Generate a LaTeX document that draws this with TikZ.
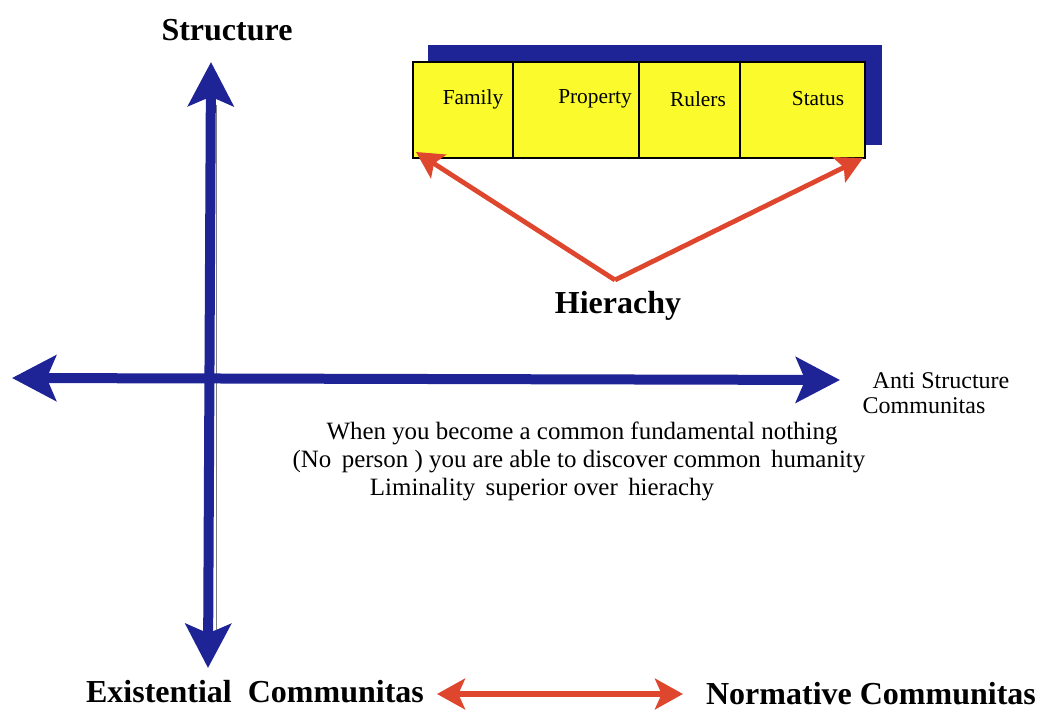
\documentclass[tikz,border=0pt]{standalone}
\usepackage{fontspec}
\setmainfont{Liberation Serif}
\usetikzlibrary{arrows.meta}
\definecolor{axisblue}{RGB}{30,36,150}
\definecolor{hred}{RGB}{222,70,45}
\definecolor{cellyellow}{RGB}{250,250,45}
\tikzset{
  blueaxis/.style={draw=axisblue, line width=7.5pt,
    {Stealth[length=33pt,width=34pt,inset=7pt]}-{Stealth[length=33pt,width=34pt,inset=7pt]}},
  redarrow/.style={draw=hred, line width=3.6pt, -{Stealth[length=20pt,width=21pt,inset=4pt]}},
  reddouble/.style={draw=hred, line width=4.5pt,
    {Stealth[length=21pt,width=23pt,inset=5pt]}-{Stealth[length=21pt,width=23pt,inset=5pt]}},
  cell/.style={draw=black, line width=1.5pt, fill=cellyellow, inner sep=0pt, outer sep=0pt, minimum height=72pt},
  celltext/.style={font=\fontsize{16}{18}\selectfont},
  bigbold/.style={font=\fontsize{24}{28}\selectfont\bfseries},
  body/.style={font=\fontsize{18.7}{22}\selectfont}
}
\begin{document}
\begin{tikzpicture}[x=0.75pt,y=-0.75pt]
\useasboundingbox (0,0) rectangle (1047,712);
% blue shadow behind the box
\fill[axisblue] (428,45) rectangle (882,145);
% cells
\node[cell, minimum width=75pt] (c1) at (463,110) {};
\node[cell, minimum width=94.5pt, anchor=west] (c2) at (c1.east) {};
\node[cell, minimum width=75.75pt, anchor=west] (c3) at (c2.east) {};
\node[cell, minimum width=93.75pt, anchor=west] (c4) at (c3.east) {};
\node[celltext] (t1) at (473,99) {Family};
\node[celltext] (t2) at (595,99) {Property};
\node[celltext] (t3) at (698,99) {Rulers};
\node[celltext] (t4) at (818,99) {Status};
% hierarchy arrows
\coordinate (apex) at (615,280);
\draw[redarrow] (apex) -- ([shift={(3,-6)}]c1.south west);
\draw[redarrow] (apex) -- ([shift={(-2,0)}]c4.south east);
\node[bigbold] (hier) at (618,306) {Hierachy};
% axes
\coordinate (vtop) at (211,62);
\coordinate (vbot) at (208,668);
\coordinate (hl) at (12,378);
\coordinate (hr) at (840,380);
\draw[blueaxis] (vbot) -- (vtop);
\draw[gray, line width=0.8pt] (216.5,105) -- (216.5,630);
\draw[blueaxis] (hl) -- (hr);
\node[bigbold] (structure) at (227,30) {Structure};
\node[font=\fontsize{18}{19}\selectfont, align=left, anchor=west] (anti) at (858,393) {\hspace{7.5pt}Anti Structure\\Communitas};
% body text
\node[body] (b1) at (582,433) {When you become a common fundamental nothing};
\node[body] (b2) at (579,462) {(No\,\ person ) you are able to discover common\,\ humanity};
\node[body] (b3) at (542,490) {Liminality\,\ superior over\,\ hierachy};
% bottom
\node[bigbold] (exist) at (255,692) {Existential~~Communitas};
\node[bigbold, inner sep=1pt] (norm) at (871,694) {Normative Communitas};
\coordinate (bl) at (437,694);
\coordinate (br) at (683,694);
\draw[reddouble] (bl) -- (br);
\end{tikzpicture}
\end{document}
